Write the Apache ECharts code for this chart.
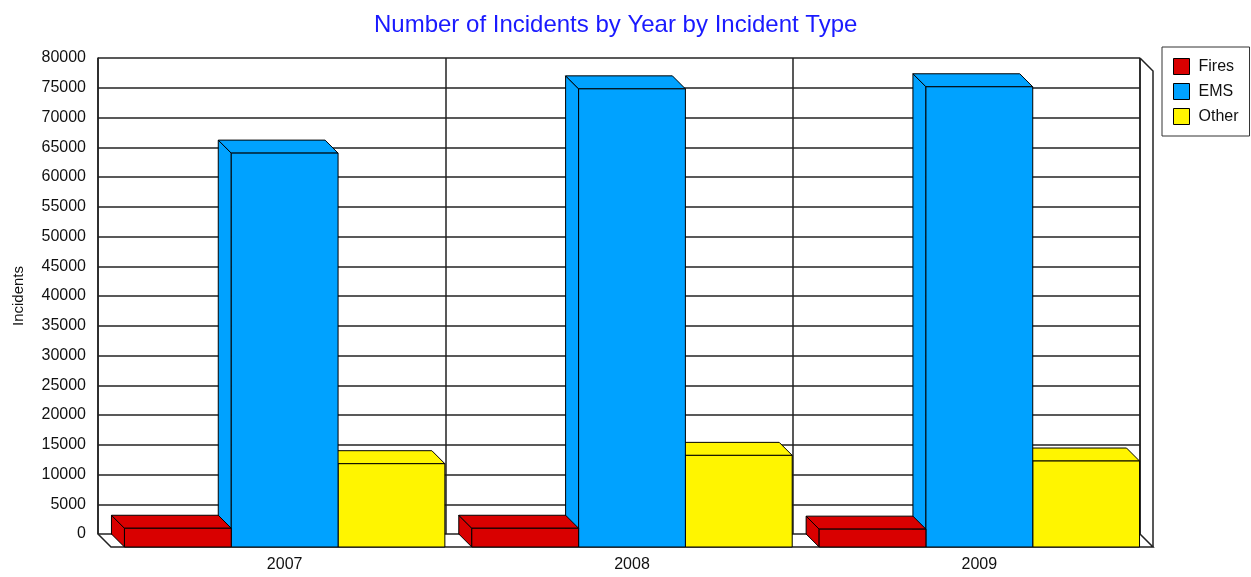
<!DOCTYPE html>
<html>
<head>
<meta charset="utf-8">
<script src="https://cdn.jsdelivr.net/npm/echarts@6/dist/echarts.min.js"></script>
<style>
html,body{margin:0;padding:0;background:#fff;}
#c{width:1251px;height:577px;}
</style>
</head>
<body>
<div id="c"></div>
<script>
var categories = ['2007', '2008', '2009'];
var seriesNames = ['Fires', 'EMS', 'Other'];
var fires = [3150, 3150, 3000];
var ems = [66200, 77000, 77350];
var other = [14000, 15400, 14450];
var colors = ['#d90000', '#00a2ff', '#fff500'];

var DEPTH = 13;
var BAR_FRAC = 0.3075;
var FONT = '"Liberation Sans", Arial, sans-serif';

function barRender(seriesIdx) {
  return function (params, api) {
    var cat = api.value(0);
    var val = api.value(1);
    var top = api.coord([cat, val]);
    var base = api.coord([cat, 0]);
    var band = api.size([1, 0])[0];
    var bw = band * BAR_FRAC;
    var x0 = top[0] - 1.5 * bw + seriesIdx * bw;
    var yt = top[1];
    var yb = base[1];
    var d = DEPTH;
    var style = {fill: colors[seriesIdx], stroke: '#000', lineWidth: 1};
    return {
      type: 'group',
      children: [
        {type: 'polygon', shape: {points: [[x0, yt], [x0 + d, yt + d], [x0 + d, yb + d], [x0, yb]]}, style: style},
        {type: 'polygon', shape: {points: [[x0, yt], [x0 + bw, yt], [x0 + bw + d, yt + d], [x0 + d, yt + d]]}, style: style},
        {type: 'rect', shape: {x: x0 + d, y: yt + d, width: bw, height: yb - yt}, style: style}
      ]
    };
  };
}

function frameRender(params, api) {
  var cs = params.coordSys;
  var l = cs.x, t = cs.y, r = cs.x + cs.width, b = cs.y + cs.height, d = DEPTH;
  var ls = {stroke: '#222', lineWidth: 1.5, fill: null};
  return {
    type: 'group',
    children: [
      {type: 'polyline', shape: {points: [[l, b], [l + d, b + d], [r + d, b + d], [r, b]]}, style: ls},
      {type: 'polyline', shape: {points: [[r, t], [r + d, t + d], [r + d, b + d]]}, style: ls},
      {type: 'line', shape: {x1: r, y1: t, x2: r, y2: b}, style: ls}
    ]
  };
}

function toData(arr) {
  return arr.map(function (v, i) { return [i, v]; });
}

var seriesData = [fires, ems, other];
var series = [{
  type: 'custom',
  name: '_frame',
  renderItem: frameRender,
  data: [[0, 0]],
  silent: true,
  z: 1
}];
seriesNames.forEach(function (n, i) {
  series.push({
    type: 'custom',
    name: n,
    renderItem: barRender(i),
    data: toData(seriesData[i]),
    itemStyle: {color: colors[i], borderColor: '#000', borderWidth: 1},
    encode: {x: 0, y: 1},
    z: 10 - i
  });
});

var chart = echarts.init(document.getElementById('c'));
chart.setOption({
  animation: false,
  backgroundColor: '#fff',
  title: {
    text: 'Number of Incidents by Year by Incident Type',
    left: 369,
    top: 8,
    textStyle: {color: '#1a1aff', fontSize: 24, fontWeight: 'normal', fontFamily: FONT}
  },
  legend: {
    data: seriesNames.map(function (n, i) {
      return {name: n, icon: 'rect', itemStyle: {color: colors[i], borderColor: '#000', borderWidth: 1}};
    }),
    orient: 'vertical',
    left: 1162,
    top: 47,
    padding: [11, 11, 11, 11],
    itemWidth: 16,
    itemHeight: 16,
    itemGap: 8,
    borderColor: '#333',
    borderWidth: 1,
    textStyle: {color: '#111', fontSize: 16, fontFamily: FONT, padding: [3, 0, 0, 4]}
  },
  grid: {left: 98, top: 58, right: 111, bottom: 43, containLabel: false},
  xAxis: {
    type: 'category',
    data: categories,
    boundaryGap: true,
    axisLine: {show: false},
    axisTick: {show: false},
    splitLine: {show: true, interval: 0, lineStyle: {color: '#222', width: 1.5}},
    axisLabel: {color: '#111', fontSize: 16, fontFamily: FONT, margin: 23, padding: [0, 0, 0, 26], interval: 0}
  },
  yAxis: {
    type: 'value',
    min: 0,
    max: 80000,
    interval: 5000,
    name: 'Incidents',
    nameLocation: 'middle',
    nameRotate: 90,
    nameGap: 72,
    nameTextStyle: {color: '#111', fontSize: 15, fontFamily: FONT},
    axisLine: {show: true, lineStyle: {color: '#222', width: 1.5}},
    axisTick: {show: false},
    splitLine: {show: true, lineStyle: {color: '#222', width: 1.5}},
    axisLabel: {color: '#111', fontSize: 16, fontFamily: FONT, margin: 12, formatter: function (v) { return String(v); }}
  },
  series: series
});
</script>
</body>
</html>
